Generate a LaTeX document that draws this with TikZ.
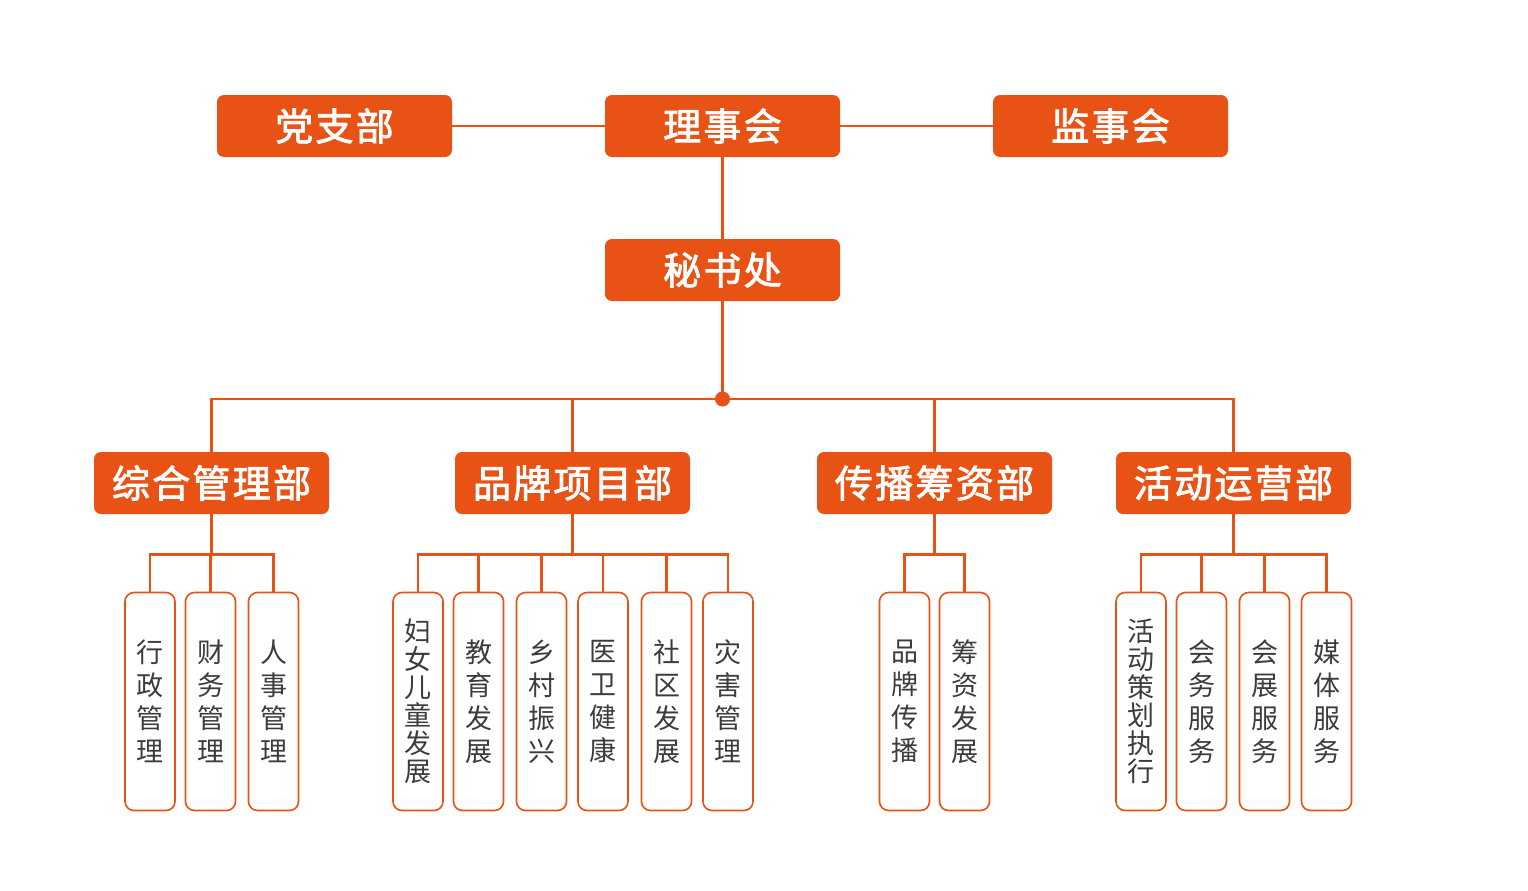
\documentclass[tikz,border=0pt]{standalone}
\usepackage{fontspec}
\newfontfamily\cjk{Noto Sans CJK SC}
\newfontfamily\cjkh[LetterSpace=6,FakeBold=2.2]{Noto Sans CJK SC}
\definecolor{org}{RGB}{232,82,20}
\definecolor{txt}{RGB}{60,60,60}
\tikzset{
 head/.style={fill=org, rounded corners=7pt, minimum width=235pt, minimum height=62pt, inner sep=0pt, font=\cjkh\fontsize{38}{40}\selectfont, text=white},
 leaf/.style={draw=org, line width=1.6pt, rounded corners=9pt, minimum width=50pt, minimum height=218pt, inner sep=0pt, fill=white, font=\cjk\fontsize{27}{33}\selectfont, text=txt, align=center},
 longleaf/.style={leaf, font=\cjk\fontsize{27}{28}\selectfont},
 link/.style={draw=org, line width=2.2pt},
}
\begin{document}
\begin{tikzpicture}[x=1pt,y=-1pt]
\useasboundingbox (0,0) rectangle (1528,891);
% top
\node[head] (dz) at (334.5,126) {党支部};
\node[head] (ls) at (722.5,126) {理事会};
\node[head] (js) at (1110.5,126) {监事会};
\node[head] (ms) at (722.5,270) {秘书处};
\draw[link] (dz.east) -- (ls.west);
\draw[link] (ls.east) -- (js.west);
\draw[link] (ls.south) -- (ms.north);
% departments
\node[head] (d1) at (211.5,483) {综合管理部};
\node[head] (d2) at (572.5,483) {品牌项目部};
\node[head] (d3) at (934.5,483) {传播筹资部};
\node[head] (d4) at (1233.5,483) {活动运营部};
\coordinate (hub) at (722.5,399);
\coordinate (bus) at (0,554.5);
\draw[link] (ms.south) -- (hub);
\draw[link] (d1.north) -- (d1.north |- hub) -- (d4.north |- hub) -- (d4.north);
\draw[link] (d2.north) -- (d2.north |- hub);
\draw[link] (d3.north) -- (d3.north |- hub);
\fill[org] (hub) circle (7.5pt);
% leaves
\node[leaf] (a1) at (150,701.5) {行\\政\\管\\理};
\node[leaf] (a2) at (210.5,701.5) {财\\务\\管\\理};
\node[leaf] (a3) at (273.5,701.5) {人\\事\\管\\理};
\node[longleaf] (b1) at (418,701.5) {妇\\女\\儿\\童\\发\\展};
\node[leaf] (b2) at (478.5,701.5) {教\\育\\发\\展};
\node[leaf] (b3) at (541.5,701.5) {乡\\村\\振\\兴};
\node[leaf] (b4) at (603,701.5) {医\\卫\\健\\康};
\node[leaf] (b5) at (666.5,701.5) {社\\区\\发\\展};
\node[leaf] (b6) at (728,701.5) {灾\\害\\管\\理};
\node[leaf] (c1) at (904.5,701.5) {品\\牌\\传\\播};
\node[leaf] (c2) at (964.5,701.5) {筹\\资\\发\\展};
\node[longleaf] (e1) at (1141,701.5) {活\\动\\策\\划\\执\\行};
\node[leaf] (e2) at (1201.5,701.5) {会\\务\\服\\务};
\node[leaf] (e3) at (1264.5,701.5) {会\\展\\服\\务};
\node[leaf] (e4) at (1326.5,701.5) {媒\\体\\服\\务};
% leaf connectors
\draw[link] (d1.south) -- (d1.south |- bus);
\draw[link] (a1.north) -- (a1.north |- bus) -- (a3.north |- bus) -- (a3.north);
\draw[link] (a2.north) -- (a2.north |- bus);
\draw[link] (d2.south) -- (d2.south |- bus);
\draw[link] (b1.north) -- (b1.north |- bus) -- (b6.north |- bus) -- (b6.north);
\foreach \n in {b2,b3,b4,b5} \draw[link] (\n.north) -- (\n.north |- bus);
\draw[link] (d3.south) -- (d3.south |- bus);
\draw[link] (c1.north) -- (c1.north |- bus) -- (c2.north |- bus) -- (c2.north);
\draw[link] (d4.south) -- (d4.south |- bus);
\draw[link] (e1.north) -- (e1.north |- bus) -- (e4.north |- bus) -- (e4.north);
\foreach \n in {e2,e3} \draw[link] (\n.north) -- (\n.north |- bus);
\end{tikzpicture}
\end{document}
